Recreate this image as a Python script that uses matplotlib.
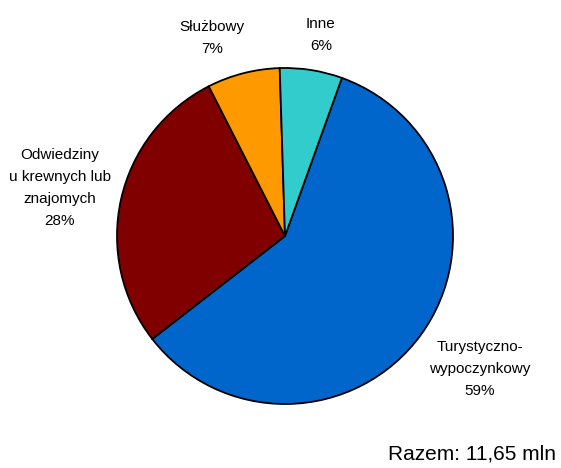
import matplotlib
matplotlib.use("Agg")
from matplotlib import pyplot as plt
from matplotlib import font_manager

kategorie = ["Turystyczno-\nwypoczynkowy", "Odwiedziny\nu krewnych lub\nznajomych", "Służbowy", "Inne"]
udzialy = [59, 28, 7, 6]
kolory = ["#0066CC", "#800000", "#FF9900", "#33CCCC"]
razem = "Razem: 11,65 mln"

names = {f.name for f in font_manager.fontManager.ttflist}
narrow = "Liberation Sans Narrow" if "Liberation Sans Narrow" in names else "Liberation Sans"

fig = plt.figure(figsize=(5.61, 4.68), dpi=100)
ax = fig.add_axes([0, 0, 1, 1])

ax.pie(udzialy, colors=kolory, startangle=70.2, counterclock=False,
       center=(285, 232), radius=168,
       wedgeprops=dict(edgecolor="black", linewidth=1.3))

ax.set_xlim(0, 561)
ax.set_ylim(0, 468)
ax.set_aspect("equal")
ax.axis("off")

# pozycje etykiet (x, y) w pikselach
pozycje = [(480, 99), (60, 280), (212, 430), (321, 433)]
for kat, u, (x, y) in zip(kategorie, udzialy, pozycje):
    ax.text(x, y, f"{kat}\n{u}%", ha="center", va="center", fontsize=11,
            family=[narrow, "DejaVu Sans"], linespacing=1.7)

ax.text(556, 14, razem, ha="right", va="center", fontsize=15,
        family=["Liberation Sans", "DejaVu Sans"])

fig.savefig("out.png", dpi=100)
